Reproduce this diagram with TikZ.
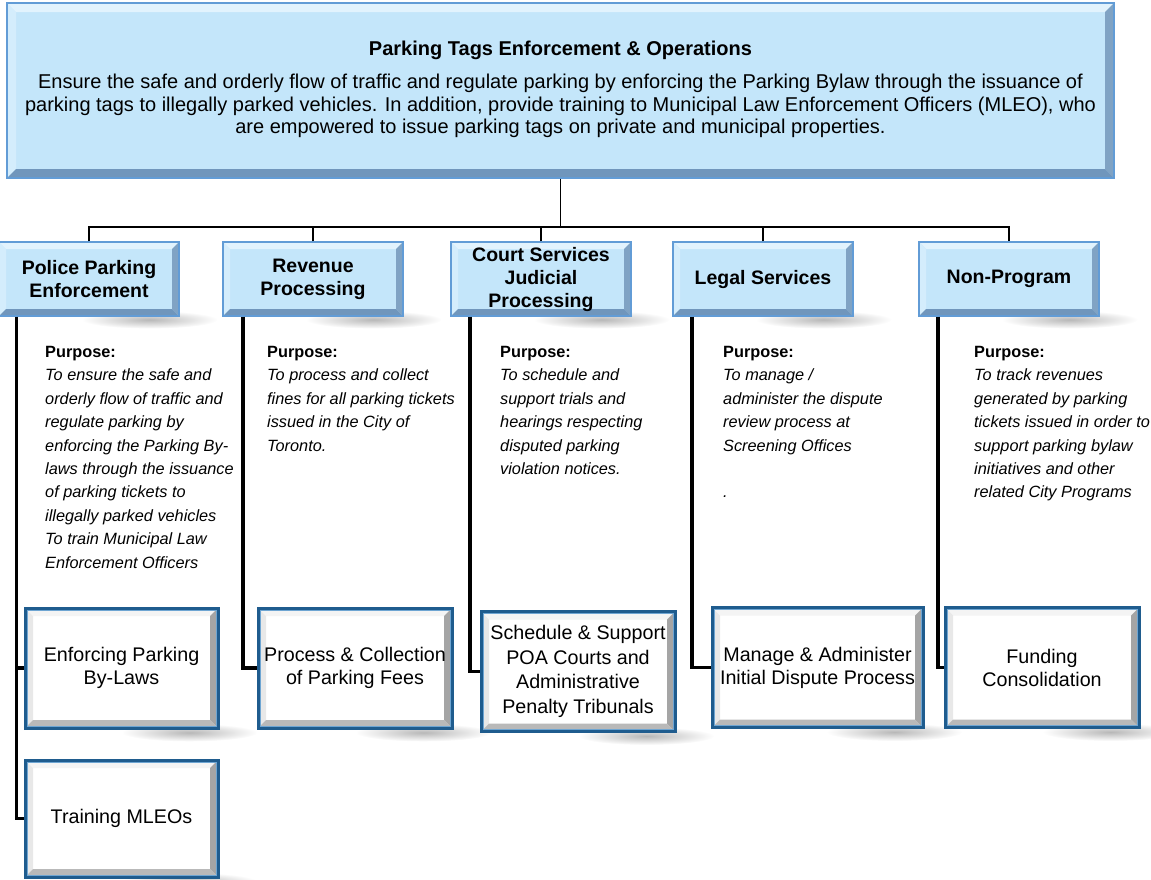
\documentclass[tikz,border=0pt]{standalone}
\usepackage{fontspec}
\setmainfont{Liberation Sans}
\usetikzlibrary{backgrounds}
\definecolor{skyfill}{RGB}{196,230,250}
\definecolor{skylite}{RGB}{226,243,253}
\definecolor{skyleft}{RGB}{212,237,252}
\definecolor{skyright}{RGB}{128,163,196}
\definecolor{skybottom}{RGB}{112,150,188}
\definecolor{skyedge}{RGB}{98,156,214}
\definecolor{taskedge}{RGB}{31,92,142}
\definecolor{taskrim}{RGB}{110,165,210}
\definecolor{tasklite}{RGB}{244,244,244}
\definecolor{taskleft}{RGB}{232,232,232}
\definecolor{taskdark}{RGB}{165,165,165}
\definecolor{taskbottom}{RGB}{185,185,185}

\def\pbb{path picture bounding box}
\newcommand\bevelfill[5]{%
  \fill[#1] (\pbb.north west) -- (\pbb.north east) -- ([shift={(-#5,-#5)}]\pbb.north east) -- ([shift={(#5,-#5)}]\pbb.north west) -- cycle;
  \fill[#2] (\pbb.north west) -- (\pbb.south west) -- ([shift={(#5,#5)}]\pbb.south west) -- ([shift={(#5,-#5)}]\pbb.north west) -- cycle;
  \fill[#3] (\pbb.north east) -- (\pbb.south east) -- ([shift={(-#5,#5)}]\pbb.south east) -- ([shift={(-#5,-#5)}]\pbb.north east) -- cycle;
  \fill[#4] (\pbb.south west) -- (\pbb.south east) -- ([shift={(-#5,#5)}]\pbb.south east) -- ([shift={(#5,#5)}]\pbb.south west) -- cycle;
}

\begin{document}
\begin{tikzpicture}[x=1pt,y=-1pt,
  topbox/.style={draw=skyedge, line width=1.2pt, fill=skyfill, minimum width=1107pt, minimum height=175pt, inner sep=0pt, align=center,
    font=\fontsize{20}{22.5}\selectfont, path picture={\bevelfill{skylite}{skyleft}{skyright}{skybottom}{9pt}}},
  headbox/.style={draw=skyedge, line width=1.2pt, fill=skyfill, minimum width=180pt, minimum height=74pt, inner sep=0pt, align=center,
    font=\fontsize{19.5}{23}\selectfont\bfseries, path picture={\bevelfill{skylite}{skyleft}{skyright}{skybottom}{7pt}}},
  taskbox/.style={draw=taskedge, line width=3pt, fill=white, minimum width=194pt, minimum height=120pt, inner sep=0pt, align=center,
    font=\fontsize{19.7}{23}\selectfont, path picture={\bevelfill{tasklite}{taskleft}{taskdark}{taskbottom}{8pt}
      \draw[taskrim, line width=0.8pt] ([shift={(2pt,-2pt)}]\pbb.north west) rectangle ([shift={(-2pt,2pt)}]\pbb.south east);}},
  purpose/.style={anchor=north west, align=left, inner sep=0pt, font=\fontsize{16.3}{23.4}\selectfont\itshape},
  link/.style={line width=1.6pt},
  stem/.style={line width=3.5pt},
  shadow/.style={inner color=black!28, outer color=white}]

  \useasboundingbox (0,0) rectangle (1151,879);

  \node[topbox] (top) at (560.5,90.5) {\textbf{Parking Tags Enforcement \& Operations}\\[11pt]
    Ensure the safe and orderly flow of traffic and regulate parking by enforcing the Parking Bylaw through the issuance of\\
    parking tags to illegally parked vehicles. In addition, provide training to Municipal Law Enforcement Officers (MLEO), who\\
    are empowered to issue parking tags on private and municipal properties.\\[-16pt]};

  \foreach \n/\x/\t in {pol/89/{Police Parking\\Enforcement}, rev/313/{Revenue\\Processing},
    crt/541/{Court Services\\Judicial\\Processing}, leg/763/{Legal Services}, non/1009/{Non-Program}}
    \node[headbox] (h\n) at (\x,279) {\t};

  \node[taskbox, minimum width=193pt] (tenf) at (121.5,668) {Enforcing Parking\\By-Laws};
  \node[taskbox, minimum width=193pt, minimum height=117pt] (ttrn) at (121.5,818.5) {Training MLEOs};
  \node[taskbox] (tfee) at (355,668) {Process \& Collection\\of Parking Fees};
  \node[taskbox, font=\fontsize{19.7}{24.5}\selectfont] (tpoa) at (578,671.5) {Schedule \& Support\\POA Courts and\\Administrative\\Penalty Tribunals};
  \node[taskbox, minimum width=211pt] (tdis) at (817.5,667.5) {Manage \& Administer\\Initial Dispute Process};
  \node[taskbox] (tfund) at (1042,667.5) {Funding\\Consolidation};

  \node[purpose] (ppol) at (45,346) {\textbf{\upshape Purpose:}\\To ensure the safe and\\orderly flow of traffic and\\regulate parking by\\enforcing the Parking By-\\laws through the issuance\\of parking tickets to\\illegally parked vehicles\\To train Municipal Law\\Enforcement Officers};
  \node[purpose] (prev) at (267,346) {\textbf{\upshape Purpose:}\\To process and collect\\fines for all parking tickets\\issued in the City of\\Toronto.};
  \node[purpose] (pcrt) at (500,346) {\textbf{\upshape Purpose:}\\To schedule and\\support trials and\\hearings respecting\\disputed parking\\violation notices.};
  \node[purpose] (pleg) at (723,346) {\textbf{\upshape Purpose:}\\To manage /\\administer the dispute\\review process at\\Screening Offices\\[23.4pt].};
  \node[purpose] (pnon) at (974,346) {\textbf{\upshape Purpose:}\\To track revenues\\generated by parking\\tickets issued in order to\\support parking bylaw\\initiatives and other\\related City Programs};

  % tree from the top box
  \coordinate (bus) at (560,227);
  \draw[link] (top.south) -- (top.south |- bus);
  \draw[link] (hpol.north) |- (bus) -| (hnon.north);
  \foreach \n in {rev,crt,leg}
    \draw[link] (h\n.north) -- (h\n.north |- bus);

  % stems down to the tasks
  \draw[stem] ([xshift=-7pt]tenf.west |- hpol.south) |- (ttrn.west);
  \draw[stem] ([xshift=-7pt]tenf.west) -- (tenf.west);
  \foreach \h/\t/\d in {rev/tfee/13.5, crt/tpoa/9.5, leg/tdis/18.5, non/tfund/5.5}
    \draw[stem] ([xshift=-\d pt]\t.west |- h\h.south) |- (\t.west);

  \begin{scope}[on background layer]
    \foreach \n in {hpol,hrev,hcrt,hleg,hnon,tenf,ttrn,tfee,tpoa,tdis,tfund}
      \shade[shadow] ([shift={(-30pt,-3pt)}]\n.south east) ellipse (68pt and 9pt);
  \end{scope}
\end{tikzpicture}
\end{document}
